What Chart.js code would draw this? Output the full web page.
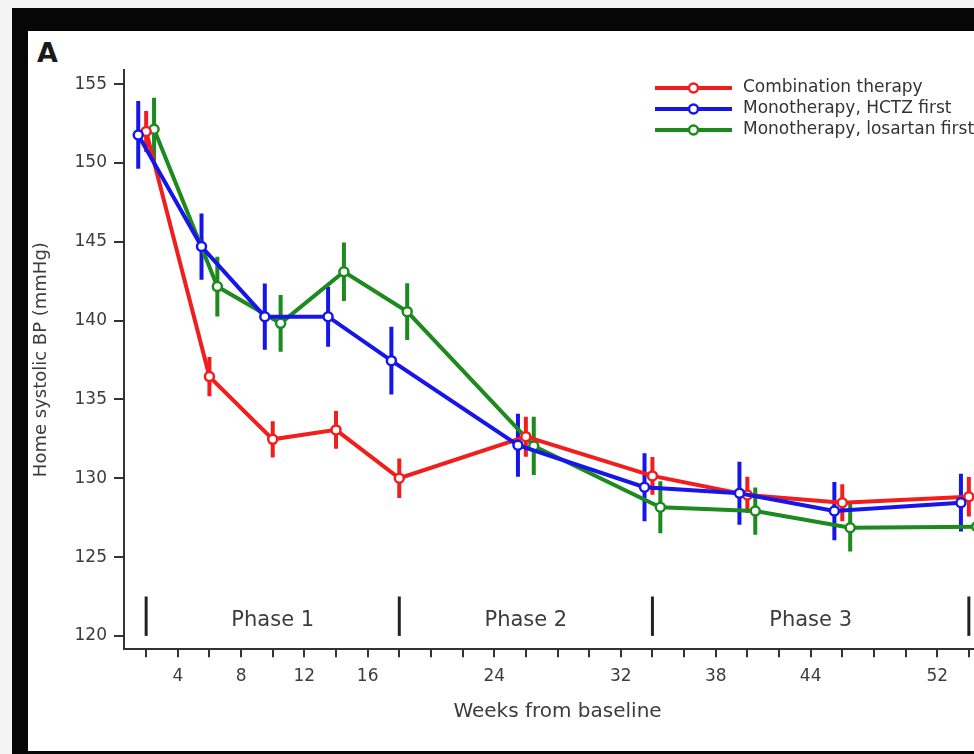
<!DOCTYPE html>
<html>
<head>
<meta charset="utf-8">
<script src="https://cdn.jsdelivr.net/npm/chart.js@4.4.1/dist/chart.umd.min.js"></script>
<style>
  html, body { margin: 0; padding: 0; overflow: hidden; background: #f4f4f4; width: 974px; height: 754px; }
  #frame { position: absolute; left: 12px; top: 8px; width: 1000px; height: 747px; box-sizing: border-box;
           border-left: 16px solid #060606; border-top: 23px solid #060606; border-bottom: 4px solid #060606; background: #fff; }
  #panel { position: absolute; left: 37px; top: 39px; font: bold 27px "DejaVu Sans"; line-height: 27px; color: #1a1a1a; }
  #chart { position: absolute; left: 0; top: 0; }
</style>
</head>
<body>
<div id="frame"></div>
<div id="panel">A</div>
<canvas id="chart" width="1000" height="754"></canvas>
<script>
// visit weeks, each series drawn a little left / right of the visit
const weeks = [2, 6, 10, 14, 18, 26, 34, 40, 46, 54];
const seriesNames = ['Combination therapy', 'Monotherapy, HCTZ first', 'Monotherapy, losartan first'];
const seriesColors = ['#f21e1e', '#1616ea', '#1c8a1c'];

const combinationMean = [152.0, 136.45, 132.47, 133.07, 130.0, 132.64, 130.15, 128.94, 128.45, 128.83];
const combinationErr = [1.3, 1.25, 1.15, 1.2, 1.25, 1.27, 1.2, 1.15, 1.17, 1.25];
const hctzMean = [151.78, 144.7, 140.25, 140.25, 137.46, 132.1, 129.43, 129.05, 127.92, 128.45];
const hctzErr = [2.15, 2.1, 2.1, 1.9, 2.15, 2.0, 2.15, 2.0, 1.85, 1.83];
const losartanMean = [152.14, 142.16, 139.83, 143.1, 140.57, 132.05, 128.16, 127.92, 126.86, 126.93];
const losartanErr = [2.0, 1.9, 1.8, 1.85, 1.8, 1.85, 1.65, 1.5, 1.5, 1.5];

const yTicks = [120, 125, 130, 135, 140, 145, 150, 155];
const xTicks = [2, 4, 6, 8, 10, 12, 14, 16, 18, 20, 22, 24, 26, 28, 30, 32, 34, 36, 38, 40, 42, 44, 46, 48, 50, 52, 54];
const xTickLabels = [4, 8, 12, 16, 24, 32, 38, 44, 52];

const phaseBounds = [2, 18, 34, 54];
const phaseLabels = ['Phase 1', 'Phase 2', 'Phase 3'];

Chart.defaults.font.family = '"DejaVu Sans"';
Chart.defaults.color = '#3c3c3c';

function makeSeries(i, means, errs, shift, order) {
    return {
        label: seriesNames[i],
        data: means.map((v, k) => ({ x: weeks[k] + shift, y: v })),
        errors: errs,
        borderColor: seriesColors[i],
        backgroundColor: seriesColors[i],
        borderWidth: 4,
        pointRadius: 4.5,
        pointBorderWidth: 2.5,
        pointBackgroundColor: '#fff',
        pointBorderColor: seriesColors[i],
        tension: 0,
        order: order
    };
}

// vertical error bars, under the lines
const errorBars = {
    id: 'errorBars',
    beforeDatasetsDraw(chart) {
        const { ctx, chartArea, scales: { x, y } } = chart;
        ctx.save();
        ctx.beginPath();
        ctx.rect(chartArea.left, chartArea.top, chartArea.width, chartArea.height);
        ctx.clip();
        ctx.lineWidth = 4;
        chart.data.datasets.forEach(ds => {
            ctx.strokeStyle = ds.borderColor;
            ds.data.forEach((p, k) => {
                const px = x.getPixelForValue(p.x);
                ctx.beginPath();
                ctx.moveTo(px, y.getPixelForValue(p.y + ds.errors[k]));
                ctx.lineTo(px, y.getPixelForValue(p.y - ds.errors[k]));
                ctx.stroke();
            });
        });
        ctx.restore();
    }
};

// phase separators and names along the bottom
const phaseMarks = {
    id: 'phaseMarks',
    afterDatasetsDraw(chart) {
        const { ctx, scales: { x, y } } = chart;
        ctx.save();
        ctx.strokeStyle = '#222';
        ctx.lineWidth = 3;
        phaseBounds.forEach(w => {
            const px = x.getPixelForValue(w);
            ctx.beginPath();
            ctx.moveTo(px, y.getPixelForValue(122.5));
            ctx.lineTo(px, y.getPixelForValue(120));
            ctx.stroke();
        });
        ctx.fillStyle = '#3c3c3c';
        ctx.font = '21px "DejaVu Sans"';
        ctx.textAlign = 'center';
        ctx.textBaseline = 'middle';
        phaseLabels.forEach((t, i) => {
            const mid = (phaseBounds[i] + phaseBounds[i + 1]) / 2;
            ctx.fillText(t, x.getPixelForValue(mid), y.getPixelForValue(121));
        });
        ctx.restore();
    }
};

// legend with line + open marker
const lineLegend = {
    id: 'lineLegend',
    afterDraw(chart) {
        const ctx = chart.ctx;
        const left = 655, right = 732, mark = 693.5, top = 88, step = 21;
        ctx.save();
        ctx.font = '17px "DejaVu Sans"';
        ctx.textBaseline = 'middle';
        ctx.textAlign = 'left';
        seriesNames.forEach((name, i) => {
            const yy = top + i * step;
            ctx.strokeStyle = seriesColors[i];
            ctx.lineWidth = 4;
            ctx.beginPath();
            ctx.moveTo(left, yy);
            ctx.lineTo(right, yy);
            ctx.stroke();
            ctx.beginPath();
            ctx.arc(mark, yy, 4.5, 0, Math.PI * 2);
            ctx.fillStyle = '#fff';
            ctx.fill();
            ctx.lineWidth = 2.5;
            ctx.stroke();
            ctx.fillStyle = '#333';
            ctx.fillText(name, 743, yy);
        });
        ctx.restore();
    }
};

const ctx = document.getElementById('chart').getContext('2d');
new Chart(ctx, {
    type: 'line',
    data: {
        datasets: [
            makeSeries(0, combinationMean, combinationErr, 0, 1),
            makeSeries(1, hctzMean, hctzErr, -0.5, 0),
            makeSeries(2, losartanMean, losartanErr, 0.5, 2)
        ]
    },
    options: {
        responsive: false,
        animation: false,
        devicePixelRatio: 1,
        layout: { padding: { left: 28, right: 9, top: 70, bottom: 0 } },
        plugins: {
            legend: { display: false },
            tooltip: { enabled: false }
        },
        scales: {
            x: {
                type: 'linear',
                min: 0.6,
                max: 55.4,
                afterBuildTicks: scale => { scale.ticks = xTicks.map(v => ({ value: v })); },
                afterFit: scale => { scale.height = 104.7; },
                ticks: {
                    autoSkip: false,
                    maxRotation: 0,
                    padding: 9,
                    font: { size: 17 },
                    callback: v => xTickLabels.includes(v) ? String(v) : ''
                },
                grid: { drawOnChartArea: false, drawTicks: true, tickLength: 8, color: '#333', lineWidth: 2 },
                border: { display: true, color: '#333', width: 2 },
                title: { display: true, text: 'Weeks from baseline', font: { size: 20 }, padding: { top: 0, bottom: 30 } }
            },
            y: {
                min: 119.15,
                max: 155.9,
                afterBuildTicks: scale => { scale.ticks = yTicks.map(v => ({ value: v })); },
                afterFit: scale => { scale.width = 96; },
                ticks: { padding: 7, font: { size: 17 } },
                grid: { drawOnChartArea: false, drawTicks: true, tickLength: 10, color: '#333', lineWidth: 2 },
                border: { display: true, color: '#333', width: 2 },
                title: { display: true, text: 'Home systolic BP (mmHg)', font: { size: 18 }, padding: { top: 3, bottom: 0 } }
            }
        }
    },
    plugins: [errorBars, phaseMarks, lineLegend]
});
</script>
</body>
</html>
